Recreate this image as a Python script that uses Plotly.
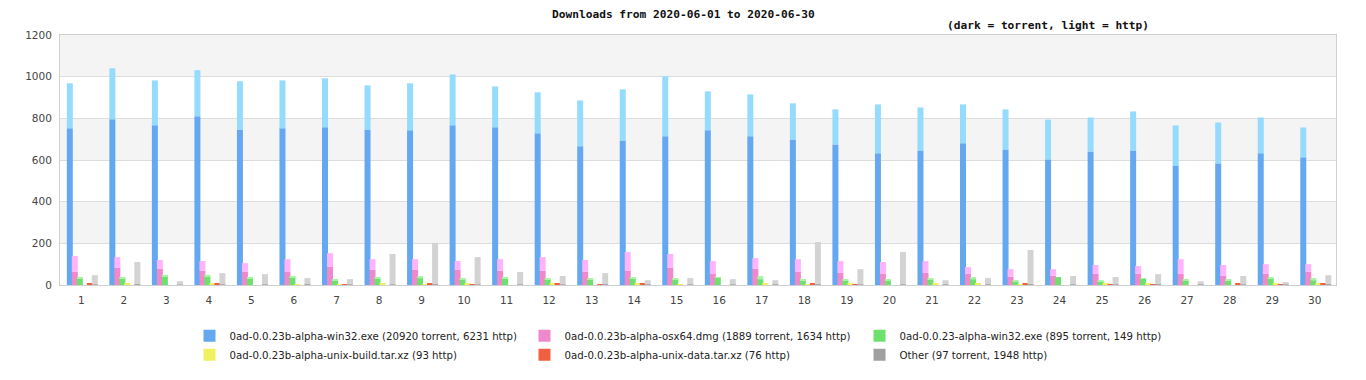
import plotly.graph_objects as go

days = list(range(1, 31))
day_labels = [str(d) for d in days]
y_ticks = [0, 200, 400, 600, 800, 1000, 1200]

win32_torrent = [752, 796, 767, 810, 747, 752, 757, 747, 743, 767, 757, 728, 666, 694, 714,
                 743, 714, 699, 675, 632, 646, 680, 651, 603, 641, 646, 574, 584, 632, 613]
win32_http = [216, 244, 215, 221, 231, 230, 235, 211, 225, 244, 196, 197, 220, 245, 288,
              186, 201, 173, 168, 235, 206, 187, 192, 191, 163, 187, 192, 196, 172, 143]

osx_torrent = [63, 82, 78, 68, 63, 63, 87, 73, 73, 73, 68, 68, 63, 68, 82,
               53, 77, 63, 58, 53, 58, 53, 39, 44, 53, 53, 53, 44, 53, 63]
osx_http = [76, 52, 42, 47, 42, 61, 66, 51, 51, 42, 56, 66, 57, 90, 67,
            62, 52, 61, 57, 57, 57, 33, 37, 32, 43, 38, 71, 52, 47, 37]

old_torrent = [33, 33, 43, 43, 33, 38, 23, 33, 33, 28, 33, 28, 28, 33, 28,
               35, 28, 23, 23, 23, 28, 28, 19, 38, 19, 30, 23, 23, 33, 23]
old_http = [6, 6, 6, 6, 6, 6, 6, 6, 10, 6, 6, 6, 2, 2, 2,
            1, 15, 6, 6, 6, 6, 10, 2, 0, 2, 1, 6, 6, 6, 10]

build_http = [0, 5, 0, 5, 0, 4, 4, 5, 4, 5, 0, 5, 0, 5, 4,
              0, 5, 4, 5, 0, 5, 5, 4, 0, 5, 5, 0, 0, 5, 5]

data_http = [5, 0, 0, 5, 0, 0, 4, 0, 5, 4, 0, 5, 4, 5, 0,
             0, 0, 9, 4, 0, 0, 0, 5, 0, 4, 4, 0, 5, 4, 5]

other_torrent = [3, 4, 2, 3, 3, 4, 3, 3, 4, 3, 3, 3, 4, 3, 3,
                 3, 3, 4, 3, 3, 3, 3, 4, 3, 3, 4, 3, 3, 3, 4]
other_http = [44, 106, 16, 54, 49, 29, 25, 146, 198, 131, 59, 40, 53, 20, 30,
              25, 20, 202, 73, 155, 20, 30, 164, 40, 35, 48, 15, 40, 11, 43]

series = [
    ("0ad-0.0.23b-alpha-win32.exe (20920 torrent, 6231 http)", win32_torrent, win32_http, "#63a8f0", "#94dbfd"),
    ("0ad-0.0.23b-alpha-osx64.dmg (1889 torrent, 1634 http)", osx_torrent, osx_http, "#f088cc", "#ffb3fc"),
    ("0ad-0.0.23-alpha-win32.exe (895 torrent, 149 http)", old_torrent, old_http, "#6ee06e", "#a6f5a0"),
    ("0ad-0.0.23b-alpha-unix-build.tar.xz (93 http)", None, build_http, "#e8e850", "#f0f060"),
    ("0ad-0.0.23b-alpha-unix-data.tar.xz (76 http)", None, data_http, "#f06040", "#f06040"),
    ("Other (97 torrent, 1948 http)", other_torrent, other_http, "#a0a0a0", "#d3d3d3"),
]

BAR_W = 0.141
OFF0 = -0.34
PITCH = 0.1176

fig = go.Figure()
for k, (name, tor, http, dark, light) in enumerate(series):
    off = OFF0 + k * PITCH
    if tor is not None:
        fig.add_trace(go.Bar(x=days, y=tor, name=name, legendgroup=name, showlegend=True,
                             marker=dict(color=dark, line=dict(width=0)),
                             width=BAR_W, offset=off))
        fig.add_trace(go.Bar(x=days, y=http, base=tor, name=name, legendgroup=name, showlegend=False,
                             marker=dict(color=light, line=dict(width=0)),
                             width=BAR_W, offset=off))
    else:
        fig.add_trace(go.Bar(x=days, y=http, name=name, legendgroup=name, showlegend=True,
                             marker=dict(color=light, line=dict(width=0)),
                             width=BAR_W, offset=off))

band_color = "#f4f4f4"
shapes = []
for lo, hi in [(200, 400), (600, 800), (1000, 1200)]:
    shapes.append(dict(type="rect", xref="paper", yref="y", x0=0, x1=1, y0=lo, y1=hi,
                       fillcolor=band_color, line=dict(width=0), layer="below"))

fig.update_layout(
    width=1366, height=380,
    margin=dict(l=52, r=38, t=27, b=103),
    paper_bgcolor="white", plot_bgcolor="white",
    barmode="overlay",
    shapes=shapes,
    font=dict(family="DejaVu Sans", size=10, color="#444"),
    xaxis=dict(range=[0.5, 30.5], tickmode="array", tickvals=days, ticktext=day_labels,
               showgrid=False, zeroline=False, showline=True, linecolor="#d0d0d0", mirror=True,
               ticks="", ticklabelstandoff=5, tickfont=dict(size=10.5, color="#444"),
               automargin=False),
    yaxis=dict(range=[0, 1200], tickmode="array", tickvals=y_ticks,
               showgrid=True, gridcolor="#dddddd", gridwidth=1, zeroline=False,
               showline=True, linecolor="#d0d0d0", mirror=True,
               ticks="", ticklabelstandoff=5, tickfont=dict(size=10.5, color="#444"),
               automargin=False),
    legend=dict(orientation="h", x=0.1015, xanchor="left", y=-0.145, yanchor="top",
                entrywidth=290, entrywidthmode="pixels", traceorder="normal",
                font=dict(family="DejaVu Sans", size=10.2, color="#222"),
                itemclick=False),
    annotations=[
        dict(text="<b>Downloads from 2020-06-01 to 2020-06-30</b>", xref="paper", yref="paper",
             x=0.4886, y=1.08, xanchor="center", yanchor="middle", showarrow=False,
             font=dict(family="DejaVu Sans Mono", size=11.2, color="#111")),
        dict(text="<b>(dark = torrent, light = http)</b>", xref="paper", yref="paper",
             x=0.774, y=1.036, xanchor="center", yanchor="middle", showarrow=False,
             font=dict(family="DejaVu Sans Mono", size=11.2, color="#111")),
    ],
)

fig.write_html("out.html")
